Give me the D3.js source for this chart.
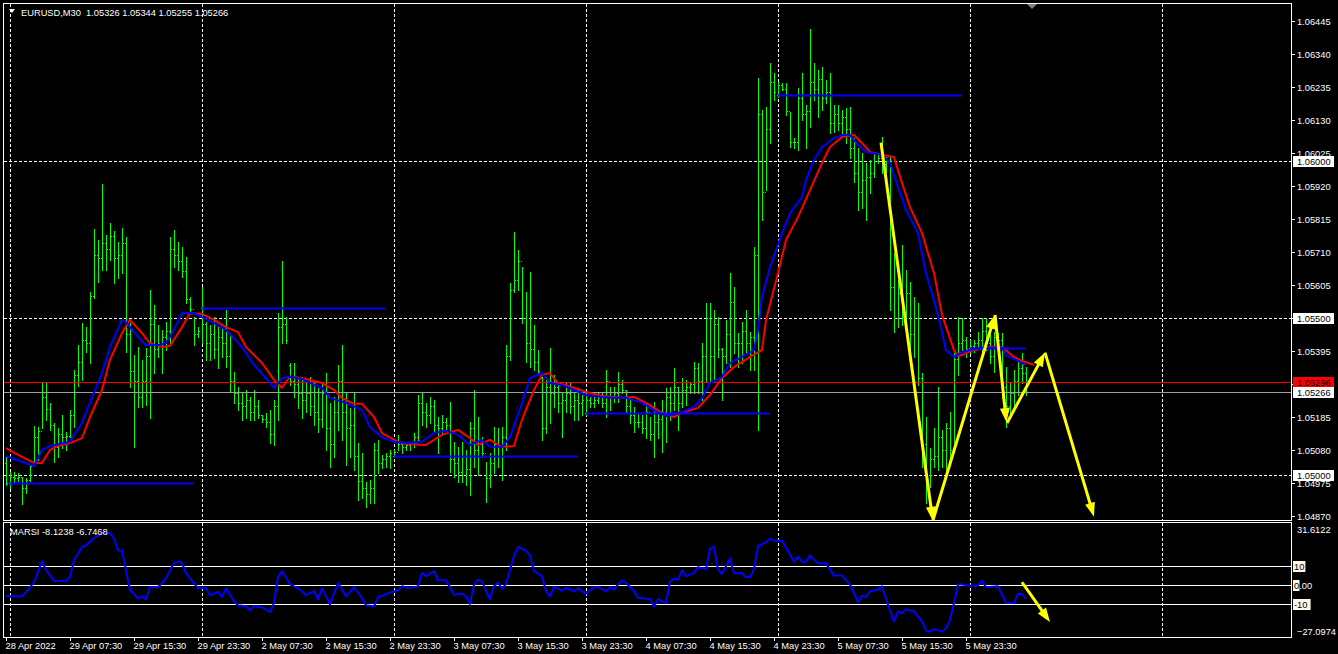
<!DOCTYPE html>
<html><head><meta charset="utf-8">
<script src="https://cdn.jsdelivr.net/npm/d3@7"></script>
<style>html,body{margin:0;padding:0;background:#000;overflow:hidden}</style>
</head><body><svg id="c" width="1338" height="654"></svg>
<script>
// ---------- DATA ----------
const symbolTitle = "EURUSD,M30  1.05326 1.05344 1.05255 1.05266";
const indicatorTitle = "MARSI -8.1238 -6.7468";

const highs = [1.05058,1.05010,1.05010,1.05006,1.04994,1.04991,1.05032,1.05157,1.05153,1.05293,1.05293,1.05230,1.05166,1.05150,1.05191,1.05138,
1.05207,1.05335,1.05414,1.05484,1.05471,1.05583,1.05783,1.05748,1.05926,1.05764,1.05802,1.05777,1.05742,1.05786,1.05758,1.05484,
1.05382,1.05408,1.05367,1.05405,1.05589,1.05541,1.05478,1.05462,1.05487,1.05758,1.05780,1.05742,1.05726,1.05694,1.05567,1.05503,
1.05471,1.05599,1.05487,1.05478,1.05503,1.05471,1.05471,1.05526,1.05452,1.05328,1.05281,1.05262,1.05271,1.05249,1.05271,1.05239,
1.05191,1.05198,1.05207,1.05239,1.05516,1.05681,1.05503,1.05357,1.05357,1.05313,1.05303,1.05293,1.05313,1.05293,1.05278,1.05297,
1.05325,1.05230,1.05249,1.05351,1.05414,1.05262,1.05214,1.05262,1.05102,1.05070,1.04979,1.04985,1.05102,1.05112,1.05064,1.05070,
1.05080,1.05080,1.05128,1.05102,1.05106,1.05106,1.05134,1.05255,1.05262,1.05230,1.05249,1.05239,1.05185,1.05191,1.05182,1.05233,
1.05106,1.05090,1.05106,1.05080,1.05169,1.05271,1.05185,1.05121,1.05042,1.05070,1.05153,1.05150,1.05153,1.05414,1.05611,1.05774,
1.05717,1.05662,1.05583,1.05646,1.05478,1.05398,1.05313,1.05313,1.05405,1.05319,1.05297,1.05262,1.05293,1.05293,1.05262,1.05278,
1.05255,1.05262,1.05249,1.05249,1.05262,1.05262,1.05335,1.05281,1.05281,1.05328,1.05303,1.05271,1.05249,1.05217,1.05198,1.05191,
1.05230,1.05185,1.05233,1.05201,1.05239,1.05278,1.05281,1.05341,1.05281,1.05309,1.05303,1.05297,1.05360,1.05357,1.05420,1.05548,
1.05548,1.05526,1.05503,1.05405,1.05494,1.05643,1.05599,1.05452,1.05487,1.05526,1.05455,1.05726,1.06264,1.06162,1.06172,1.06311,
1.06280,1.06251,1.06248,1.06248,1.06156,1.06073,1.06232,1.06280,1.06178,1.06420,1.06311,1.06289,1.06299,1.06257,1.06280,1.06178,
1.06178,1.06162,1.06168,1.06172,1.06073,1.06041,1.06025,1.05993,1.06003,1.06025,1.06025,1.06076,1.06012,1.06012,1.05707,1.05621,
1.05732,1.05653,1.05615,1.05567,1.05548,1.05325,1.05185,1.05086,1.05150,1.05281,1.05144,1.05166,1.05201,1.05389,1.05503,1.05500,
1.05440,1.05430,1.05430,1.05455,1.05500,1.05500,1.05484,1.05455,1.05452,1.05452,1.05344,1.05293,1.05335,1.05367,1.05389,1.05344];

const lows = [1.04969,1.04960,1.04979,1.04982,1.04908,1.04944,1.04982,1.05039,1.05048,1.05150,1.05176,1.05144,1.05042,1.05058,1.05086,1.05080,
1.05121,1.05153,1.05284,1.05303,1.05392,1.05357,1.05564,1.05615,1.05653,1.05653,1.05685,1.05611,1.05627,1.05643,1.05392,1.05281,
1.05090,1.05217,1.05217,1.05223,1.05182,1.05325,1.05376,1.05325,1.05398,1.05414,1.05662,1.05653,1.05630,1.05548,1.05516,1.05414,
1.05440,1.05420,1.05367,1.05367,1.05373,1.05341,1.05376,1.05344,1.05265,1.05230,1.05207,1.05176,1.05182,1.05176,1.05176,1.05182,
1.05169,1.05153,1.05102,1.05096,1.05176,1.05420,1.05420,1.05287,1.05249,1.05214,1.05182,1.05201,1.05191,1.05160,1.05137,1.05153,
1.05080,1.05026,1.05058,1.05144,1.05112,1.05032,1.05058,1.05016,1.04921,1.04927,1.04899,1.04911,1.04911,1.05006,1.05022,1.05026,
1.05022,1.05058,1.05080,1.05070,1.05080,1.05080,1.05090,1.05112,1.05160,1.05153,1.05166,1.05134,1.05070,1.05134,1.05144,1.05010,
1.04994,1.04979,1.04979,1.04969,1.04937,1.05026,1.05000,1.05058,1.04915,1.04963,1.05006,1.05026,1.04985,1.05080,1.05367,1.05583,
1.05589,1.05484,1.05360,1.05344,1.05335,1.05325,1.05112,1.05134,1.05166,1.05217,1.05201,1.05121,1.05201,1.05198,1.05176,1.05176,
1.05191,1.05191,1.05217,1.05217,1.05230,1.05217,1.05185,1.05207,1.05233,1.05233,1.05262,1.05201,1.05166,1.05137,1.05153,1.05134,
1.05118,1.05112,1.05058,1.05118,1.05074,1.05106,1.05176,1.05207,1.05144,1.05217,1.05223,1.05262,1.05262,1.05262,1.05239,1.05297,
1.05293,1.05303,1.05376,1.05239,1.05357,1.05344,1.05389,1.05344,1.05357,1.05389,1.05335,1.05335,1.05144,1.05812,1.05907,1.06057,
1.06194,1.06203,1.06226,1.06146,1.06044,1.06041,1.06035,1.06130,1.06041,1.06108,1.06194,1.06140,1.06162,1.06184,1.06089,1.06092,
1.06098,1.06089,1.06057,1.06009,1.05933,1.05844,1.05850,1.05812,1.05898,1.05949,1.05993,1.05961,1.05964,1.05526,1.05455,1.05471,
1.05478,1.05494,1.05389,1.05376,1.05287,1.05026,1.04911,1.04963,1.05026,1.05016,1.05026,1.05016,1.05039,1.05074,1.05319,1.05392,
1.05376,1.05389,1.05392,1.05405,1.05376,1.05398,1.05357,1.05328,1.05414,1.05246,1.05153,1.05198,1.05207,1.05255,1.05293,1.05255];

const opens = [1.05040,1.04975,1.04995,1.04990,1.04995,1.04960,1.04985,1.05030,1.05120,1.05140,1.05250,1.05210,1.05160,1.05090,1.05130,1.05120,
1.05125,1.05190,1.05320,1.05360,1.05430,1.05420,1.05570,1.05700,1.05690,1.05740,1.05720,1.05760,1.05690,1.05700,1.05740,1.05450,
1.05330,1.05300,1.05250,1.05300,1.05380,1.05480,1.05400,1.05420,1.05440,1.05460,1.05720,1.05700,1.05680,1.05650,1.05560,1.05530,
1.05450,1.05531,1.05480,1.05420,1.05450,1.05400,1.05440,1.05420,1.05380,1.05300,1.05260,1.05230,1.05220,1.05240,1.05200,1.05220,
1.05190,1.05180,1.05170,1.05130,1.05220,1.05470,1.05480,1.05350,1.05300,1.05290,1.05260,1.05240,1.05260,1.05220,1.05200,1.05180,
1.05260,1.05150,1.05100,1.05200,1.05300,1.05200,1.05150,1.05160,1.05060,1.04980,1.04960,1.04940,1.04960,1.05080,1.05040,1.05050,
1.05060,1.05062,1.05075,1.05100,1.05090,1.05095,1.05100,1.05120,1.05230,1.05200,1.05190,1.05220,1.05160,1.05150,1.05170,1.05160,
1.05050,1.05040,1.05010,1.05060,1.05020,1.05150,1.05080,1.05100,1.05070,1.04990,1.05040,1.05100,1.05060,1.05120,1.05380,1.05590,
1.05620,1.05680,1.05500,1.05420,1.05400,1.05360,1.05310,1.05150,1.05280,1.05260,1.05280,1.05230,1.05240,1.05260,1.05220,1.05240,
1.05230,1.05199,1.05240,1.05230,1.05240,1.05250,1.05230,1.05300,1.05250,1.05260,1.05290,1.05270,1.05220,1.05190,1.05170,1.05170,
1.05150,1.05200,1.05130,1.05170,1.05180,1.05200,1.05250,1.05230,1.05280,1.05230,1.05270,1.05280,1.05290,1.05340,1.05300,1.05380,
1.05500,1.05380,1.05480,1.05400,1.05380,1.05450,1.05550,1.05420,1.05420,1.05460,1.05420,1.05440,1.05700,1.06150,1.05900,1.06100,
1.06250,1.06210,1.06240,1.06230,1.06160,1.06060,1.06060,1.06200,1.06150,1.06160,1.06250,1.06230,1.06260,1.06200,1.06220,1.06120,
1.06150,1.06120,1.06140,1.06100,1.06040,1.05960,1.05900,1.05940,1.05950,1.05960,1.06000,1.06010,1.05990,1.06000,1.05600,1.05500,
1.05580,1.05520,1.05580,1.05450,1.05500,1.05310,1.05100,1.05000,1.05050,1.05060,1.05120,1.05080,1.05150,1.05080,1.05370,1.05420,
1.05430,1.05406,1.05410,1.05420,1.05430,1.05460,1.05420,1.05380,1.05440,1.05430,1.05280,1.05220,1.05260,1.05300,1.05340,1.05326];

const closes = [1.04975,1.04995,1.04990,1.04995,1.04960,1.04985,1.05030,1.05120,1.05140,1.05250,1.05210,1.05160,1.05090,1.05130,1.05120,1.05125,
1.05190,1.05320,1.05360,1.05430,1.05420,1.05570,1.05700,1.05690,1.05740,1.05720,1.05760,1.05690,1.05700,1.05740,1.05450,1.05330,
1.05300,1.05250,1.05300,1.05380,1.05480,1.05400,1.05420,1.05440,1.05460,1.05720,1.05700,1.05680,1.05650,1.05560,1.05530,1.05450,
1.05460,1.05480,1.05420,1.05450,1.05400,1.05440,1.05420,1.05380,1.05300,1.05260,1.05230,1.05220,1.05240,1.05200,1.05220,1.05190,
1.05180,1.05170,1.05130,1.05220,1.05470,1.05480,1.05430,1.05300,1.05290,1.05260,1.05240,1.05260,1.05220,1.05200,1.05180,1.05260,
1.05150,1.05100,1.05200,1.05300,1.05200,1.05150,1.05160,1.05060,1.04980,1.04960,1.04940,1.04960,1.05080,1.05040,1.05050,1.05060,
1.05070,1.05075,1.05100,1.05090,1.05095,1.05100,1.05120,1.05230,1.05200,1.05190,1.05220,1.05160,1.05150,1.05170,1.05160,1.05050,
1.05040,1.05010,1.05060,1.05020,1.05150,1.05080,1.05100,1.05070,1.04990,1.05040,1.05100,1.05060,1.05120,1.05380,1.05590,1.05620,
1.05680,1.05500,1.05420,1.05400,1.05360,1.05330,1.05150,1.05280,1.05260,1.05280,1.05230,1.05240,1.05260,1.05220,1.05240,1.05230,
1.05240,1.05240,1.05230,1.05240,1.05250,1.05230,1.05300,1.05250,1.05260,1.05290,1.05270,1.05220,1.05190,1.05170,1.05170,1.05150,
1.05200,1.05130,1.05170,1.05180,1.05200,1.05250,1.05230,1.05280,1.05230,1.05270,1.05280,1.05290,1.05340,1.05300,1.05380,1.05500,
1.05380,1.05480,1.05400,1.05380,1.05450,1.05550,1.05420,1.05420,1.05460,1.05420,1.05440,1.05700,1.06150,1.05900,1.06100,1.06250,
1.06220,1.06240,1.06230,1.06160,1.06060,1.06060,1.06200,1.06150,1.06160,1.06250,1.06230,1.06260,1.06200,1.06220,1.06120,1.06150,
1.06120,1.06140,1.06100,1.06040,1.05960,1.05900,1.05940,1.05950,1.05960,1.06000,1.06010,1.05990,1.06000,1.05600,1.05500,1.05580,
1.05520,1.05580,1.05450,1.05500,1.05310,1.05100,1.05000,1.05050,1.05060,1.05120,1.05080,1.05150,1.05080,1.05370,1.05420,1.05430,
1.05400,1.05410,1.05420,1.05430,1.05460,1.05420,1.05380,1.05440,1.05430,1.05280,1.05220,1.05260,1.05300,1.05340,1.05326,1.05266];

// moving averages (bar index, price)
const maBlueIdx = [0,7,9,11,16,19,21,24,26,29,30,33,35,38,40,42,44,47,49,52,55,59,62,65,67,69,71,74,77,79,81,85,89,91,94,97,100,104,107,110,113,116,119,121,124,126,129,131,134,136,139,142,145,149,152,155,159,162,165,169,172,174,176,179,181,184,187,188,189,191,194,196,199,200,202,204,207,209,211,213,215,219,221,223,225,228,230,233,235,237,239,241,244,249,250,252,255];
const maBlue = [1.05061,1.05029,1.05080,1.05093,1.05106,1.05166,1.05230,1.05325,1.05408,1.05494,1.05487,1.05440,1.05414,1.05414,1.05420,1.05462,1.05516,1.05516,1.05503,1.05484,1.05462,1.05408,1.05351,1.05309,1.05278,1.05309,1.05313,1.05306,1.05287,1.05278,1.05246,1.05230,1.05207,1.05153,1.05121,1.05106,1.05102,1.05106,1.05134,1.05141,1.05128,1.05096,1.05112,1.05090,1.05090,1.05121,1.05230,1.05309,1.05325,1.05293,1.05287,1.05271,1.05255,1.05249,1.05246,1.05246,1.05230,1.05207,1.05188,1.05201,1.05217,1.05246,1.05293,1.05313,1.05357,1.05376,1.05398,1.05462,1.05567,1.05662,1.05770,1.05834,1.05885,1.05939,1.06003,1.06044,1.06073,1.06082,1.06082,1.06051,1.06028,1.06019,1.05993,1.05917,1.05844,1.05770,1.05643,1.05510,1.05398,1.05376,1.05392,1.05398,1.05405,1.05405,1.05382,1.05370,1.05351];
const maRedIdx = [0,4,7,9,11,13,16,19,21,24,26,29,31,34,36,39,41,44,46,49,52,55,58,60,64,67,69,71,74,79,82,84,87,89,92,94,98,100,105,109,113,116,118,121,124,127,129,132,134,136,138,142,145,149,154,157,160,164,167,169,173,176,179,182,186,189,190,193,195,198,201,204,206,209,212,214,216,219,222,224,226,229,232,234,237,238,239,241,246,249,252,254,257];
const maRed = [1.05086,1.05058,1.05039,1.05039,1.05080,1.05093,1.05102,1.05118,1.05185,1.05271,1.05367,1.05452,1.05494,1.05452,1.05420,1.05408,1.05411,1.05471,1.05516,1.05513,1.05494,1.05471,1.05455,1.05408,1.05357,1.05303,1.05278,1.05313,1.05309,1.05293,1.05271,1.05246,1.05227,1.05227,1.05185,1.05134,1.05106,1.05099,1.05096,1.05128,1.05144,1.05118,1.05096,1.05112,1.05090,1.05093,1.05176,1.05271,1.05319,1.05325,1.05293,1.05278,1.05265,1.05252,1.05246,1.05249,1.05230,1.05198,1.05185,1.05198,1.05214,1.05255,1.05309,1.05344,1.05376,1.05398,1.05494,1.05643,1.05748,1.05821,1.05907,1.05993,1.06044,1.06076,1.06082,1.06057,1.06028,1.06019,1.06012,1.05930,1.05853,1.05770,1.05643,1.05510,1.05398,1.05379,1.05382,1.05395,1.05408,1.05408,1.05376,1.05363,1.05351];

// MARSI oscillator (bar index, value)
const marsiIdx = [0,4,5,7,9,10,12,15,16,17,19,20,22,24,26,27,28,29,30,31,33,34,35,36,38,39,40,42,43,44,45,47,48,50,51,53,54,55,57,58,60,61,62,64,66,67,68,69,71,73,74,75,77,78,79,81,83,85,87,89,90,92,93,95,97,98,99,101,103,104,105,107,108,110,112,114,115,116,117,118,119,120,121,122,123,124,125,127,128,130,131,132,134,135,136,137,139,140,142,143,145,147,148,150,151,152,153,154,155,157,158,161,162,163,165,166,167,168,169,170,172,173,175,176,177,178,179,181,182,183,184,185,186,187,188,190,191,192,194,196,197,198,199,200,201,203,205,207,209,211,212,213,214,215,216,218,219,221,222,223,224,225,227,229,230,231,232,234,235,236,237,238,239,241,243,244,245,248,250,252,253,254,255];
const marsi = [-5.8,-5.8,-3.7,1.6,12.7,7.9,2.3,2.3,4.4,13.1,20.1,21.0,24.6,27.3,27.3,24.6,18.3,18.3,7.9,-2.6,-6.8,-5.8,-7.3,-0.9,-1.0,1.2,3.7,11.7,12.2,12.0,6.3,1.0,-1.6,-1.6,-5.2,-3.5,-6.1,-1.6,-8.4,-10.5,-11.0,-13.1,-11.0,-11.5,-14.0,-9.3,4.4,7.5,0.5,-1.6,-3.1,-5.2,-3.0,-7.3,-1.6,-10.0,1.2,-5.8,-0.9,-6.8,-10.5,-11.0,-6.3,-4.7,-3.1,-2.6,-0.5,-1.6,-0.5,6.4,4.7,7.5,2.6,2.6,-4.9,-4.4,-5.8,-9.7,0.4,3.0,2.1,-3.1,-7.2,-0.5,1.3,-1.9,0.7,15.4,20.1,18.0,15.7,7.4,4.8,-3.1,-5.8,-0.8,-2.8,-1.4,-3.1,-1.4,-4.4,-1.0,-1.0,-3.1,-1.0,-2.3,0.4,2.5,1.3,-3.1,-6.7,-7.2,-11.1,-7.2,-9.3,2.1,3.4,3.0,7.9,4.8,6.5,9.5,8.4,19.2,20.1,8.4,6.0,14.1,6.5,6.2,6.5,4.3,4.3,8.4,20.6,22.4,24.5,23.3,23.3,16.2,12.4,15.0,12.4,12.4,15.7,11.5,11.5,5.1,5.1,0.4,-4.0,-8.9,-5.5,-6.1,-3.1,-2.3,-0.5,-13.2,-19.0,-13.7,-14.7,-12.6,-13.7,-19.0,-23.8,-24.3,-23.0,-24.3,-22.5,-18.1,-9.3,0.4,0.4,-0.2,-0.2,2.5,-1.0,-0.5,-9.3,-9.3,-4.4,-4.6,-6.75];
const marsiLevels = [10, 0, -10];

// daily open lines
const dayOpenStart = [1, 49, 97, 145, 193, 241];
const dayOpenEnd = [47, 95, 143, 191, 239, 255];
const dayOpenPrice = [1.04975, 1.05531, 1.05062, 1.05199, 1.06210, 1.05406];

// period separators (bar index of day start)
const separatorIdx = [1, 49, 97, 145, 193, 241, 289];

// horizontal line objects
const hLevels = [1.06000, 1.05500, 1.05000];
const redLevel = 1.05296;
const bidPrice = 1.05266;

// yellow arrows: [startIdx, startPrice, endIdx, endPrice]
const arrowsMain = [
  [218.75, 1.06058, 231.7, 1.04855],
  [231.7, 1.04855, 247.25, 1.05510],
  [247.25, 1.05510, 250.1, 1.05169],
  [250.25, 1.05166, 259.75, 1.05390],
  [259.75, 1.05390, 272.0, 1.04868]
];
const arrowsInd = [[254, 1.6, 261, -19.2]];

// axis labels
const priceTicks = [1.06445,1.06340,1.06235,1.06130,1.06025,1.05920,1.05815,1.05710,1.05605,1.05500,1.05395,1.05290,1.05185,1.05080,1.04975,1.04870];
const timeTickIdx = [0,16,32,48,64,80,96,112,128,144,160,176,192,208,224,240];
const timeLabels = ["28 Apr 2022","29 Apr 07:30","29 Apr 15:30","29 Apr 23:30","2 May 07:30","2 May 15:30","2 May 23:30","3 May 07:30","3 May 15:30","3 May 23:30","4 May 07:30","4 May 15:30","4 May 23:30","5 May 07:30","5 May 15:30","5 May 23:30"];
const indMax = 31.6122, indMin = -27.0974;

// ---------- DRAW ----------
const FONT = '"Liberation Sans", Arial, sans-serif';
const FS = 9.3;
const svg = d3.select('#c');
const PL = 3, PR = 1291, MT = 3, MB = 520, IT = 522, IB = 637;

const x = d3.scaleLinear().domain([0, 1]).range([6, 10]);
const y = d3.scaleLinear().domain([1.04870, 1.06445]).range([516, 21]);
const yi = d3.scaleLinear().domain([indMin, indMax]).range([637, 525]);
const px = i => Math.round(x(i));
const py = p => Math.round(y(p));

svg.append('rect').attr('width', 1338).attr('height', 654).attr('fill', '#000');

// separators
const sepG = svg.append('g').attr('stroke', '#fff').attr('stroke-dasharray', '3,2').attr('shape-rendering', 'crispEdges');
separatorIdx.forEach(i => {
  const xx = px(i) + 0.5;
  sepG.append('line').attr('x1', xx).attr('x2', xx).attr('y1', MT + 1).attr('y2', MB);
  sepG.append('line').attr('x1', xx).attr('x2', xx).attr('y1', IT + 1).attr('y2', IB);
});
// horizontal dashed levels
hLevels.forEach(p => {
  svg.append('line').attr('x1', PL + 1).attr('x2', PR).attr('y1', py(p) + 0.5).attr('y2', py(p) + 0.5)
    .attr('stroke', '#fff').attr('stroke-dasharray', '3,2').attr('shape-rendering', 'crispEdges');
});

// OHLC bars
const idx = d3.range(highs.length);
const barG = svg.append('g').attr('fill', '#00ff00').attr('shape-rendering', 'crispEdges');
barG.selectAll('rect.hl').data(idx).join('rect').attr('class', 'hl')
  .attr('x', i => px(i)).attr('y', i => py(highs[i])).attr('width', 1)
  .attr('height', i => Math.max(1, py(lows[i]) - py(highs[i]) + 1));
barG.selectAll('rect.op').data(idx).join('rect').attr('class', 'op')
  .attr('x', i => px(i) - 1).attr('y', i => py(opens[i])).attr('width', 1).attr('height', 1);
barG.selectAll('rect.cl').data(idx).join('rect').attr('class', 'cl')
  .attr('x', i => px(i) + 1).attr('y', i => py(closes[i])).attr('width', 1).attr('height', 1);

// red level and bid line
svg.append('line').attr('x1', PL + 1).attr('x2', PR).attr('y1', py(redLevel) + 0.5).attr('y2', py(redLevel) + 0.5)
  .attr('stroke', '#ff0000').attr('shape-rendering', 'crispEdges');
svg.append('line').attr('x1', PL + 1).attr('x2', PR).attr('y1', py(bidPrice) + 0.5).attr('y2', py(bidPrice) + 0.5)
  .attr('stroke', '#a0a0a0').attr('shape-rendering', 'crispEdges');

// moving averages
const lineMain = d3.line().x(d => x(d[0])).y(d => y(d[1]));
svg.append('path').attr('d', lineMain(maRedIdx.map((i, k) => [i, maRed[k]])))
  .attr('fill', 'none').attr('stroke', '#ff0000').attr('stroke-width', 2).attr('stroke-linejoin', 'round');
svg.append('path').attr('d', lineMain(maBlueIdx.map((i, k) => [i, maBlue[k]])))
  .attr('fill', 'none').attr('stroke', '#0000ff').attr('stroke-width', 2).attr('stroke-linejoin', 'round');

// daily open lines
dayOpenStart.forEach((s, k) => {
  svg.append('line').attr('x1', x(s)).attr('x2', x(dayOpenEnd[k]))
    .attr('y1', py(dayOpenPrice[k]) + 0.5).attr('y2', py(dayOpenPrice[k]) + 0.5)
    .attr('stroke', '#0000ff').attr('stroke-width', 2);
});

// indicator levels
marsiLevels.forEach(v => {
  const yy = Math.round(yi(v)) + 0.5;
  svg.append('line').attr('x1', PL + 1).attr('x2', PR).attr('y1', yy).attr('y2', yy)
    .attr('stroke', '#fff').attr('shape-rendering', 'crispEdges');
});
// MARSI line
const lineInd = d3.line().x(d => x(d[0])).y(d => yi(d[1]));
svg.append('path').attr('d', lineInd(marsiIdx.map((i, k) => [i, marsi[k]])))
  .attr('fill', 'none').attr('stroke', '#0000ff').attr('stroke-width', 2).attr('stroke-linejoin', 'round');

// yellow arrows
function arrow(x1, y1, x2, y2) {
  const dx = x2 - x1, dy = y2 - y1, L = Math.hypot(dx, dy), ux = dx / L, uy = dy / L;
  const hl = 14, hw = 5;
  const bx = x2 - ux * hl, by = y2 - uy * hl;
  svg.append('line').attr('x1', x1).attr('y1', y1).attr('x2', bx + ux * 2).attr('y2', by + uy * 2)
    .attr('stroke', '#ffff00').attr('stroke-width', 3);
  svg.append('path').attr('d', `M${x2},${y2}L${bx - uy * hw},${by + ux * hw}L${bx + uy * hw},${by - ux * hw}Z`)
    .attr('fill', '#ffff00');
}
arrowsMain.forEach(a => arrow(x(a[0]), y(a[1]), x(a[2]), y(a[3])));
arrowsInd.forEach(a => arrow(x(a[0]), yi(a[1]), x(a[2]), yi(a[3])));

// frames
const frameG = svg.append('g').attr('fill', 'none').attr('stroke', '#fff').attr('shape-rendering', 'crispEdges');
frameG.append('rect').attr('x', PL + 0.5).attr('y', MT + 0.5).attr('width', PR - PL).attr('height', MB - MT);
frameG.append('rect').attr('x', PL + 0.5).attr('y', IT + 0.5).attr('width', PR - PL).attr('height', IB - IT);

// chart shift marker
svg.append('path').attr('d', 'M1027,4L1037,4L1032,9Z').attr('fill', '#808080');

// right price axis
const axG = svg.append('g').attr('font-family', FONT).attr('font-size', FS);
priceTicks.forEach(p => {
  const yy = py(p);
  axG.append('line').attr('x1', PR).attr('x2', PR + 4).attr('y1', yy + 0.5).attr('y2', yy + 0.5)
    .attr('stroke', '#fff').attr('shape-rendering', 'crispEdges');
  axG.append('text').attr('x', 1297).attr('y', yy + 3.5).attr('fill', '#fff').text(d3.format('.5f')(p));
});
function boxLabel(p, bg) {
  const yy = py(p);
  axG.append('rect').attr('x', 1293).attr('y', yy - 5).attr('width', 41).attr('height', 11).attr('fill', bg);
  axG.append('text').attr('x', 1297).attr('y', yy + 3.5).attr('fill', '#000').text(d3.format('.5f')(p));
}
hLevels.forEach(p => boxLabel(p, '#fff'));
boxLabel(redLevel, '#ff0000');
boxLabel(bidPrice, '#fff');

// indicator axis labels
axG.append('text').attr('x', 1297).attr('y', yi(indMax) + 8).attr('fill', '#fff').text(d3.format('.4f')(indMax));
axG.append('text').attr('x', 1297).attr('y', yi(indMin) - 2.5).attr('fill', '#fff').text(d3.format('.4f')(indMin));
marsiLevels.forEach(v => {
  const yy = Math.round(yi(v));
  if (v === 0) {
    axG.append('rect').attr('x', 1293).attr('y', yy - 5).attr('width', 6.5).attr('height', 11).attr('fill', '#fff8e8');
    const t = axG.append('text').attr('x', 1294).attr('y', yy + 3.5);
    t.append('tspan').attr('fill', '#000').text('0');
    t.append('tspan').attr('fill', '#fff').text('.00');
  } else {
    const s = String(v);
    axG.append('rect').attr('x', 1293).attr('y', yy - 5).attr('width', s.length * 5.2 + 2).attr('height', 11).attr('fill', '#fff8e8');
    axG.append('text').attr('x', 1294).attr('y', yy + 3.5).attr('fill', '#000').text(s);
  }
});

// time axis
timeTickIdx.forEach((i, k) => {
  const xx = px(i) + 0.5;
  axG.append('line').attr('x1', xx).attr('x2', xx).attr('y1', IB).attr('y2', IB + 4)
    .attr('stroke', '#fff').attr('shape-rendering', 'crispEdges');
  axG.append('text').attr('x', px(i) - 0.5).attr('y', 649).attr('fill', '#fff').text(timeLabels[k]);
});

// titles
svg.append('path').attr('d', 'M9,9L15,9L12,13Z').attr('fill', '#fff');
svg.append('text').attr('x', 21).attr('y', 16).attr('fill', '#fff').attr('font-family', FONT).attr('font-size', FS)
  .attr('xml:space', 'preserve').style('white-space', 'pre').text(symbolTitle);
svg.append('text').attr('x', 10).attr('y', 535).attr('fill', '#fff').attr('font-family', FONT).attr('font-size', FS)
  .text(indicatorTitle);
</script>
</body></html>
